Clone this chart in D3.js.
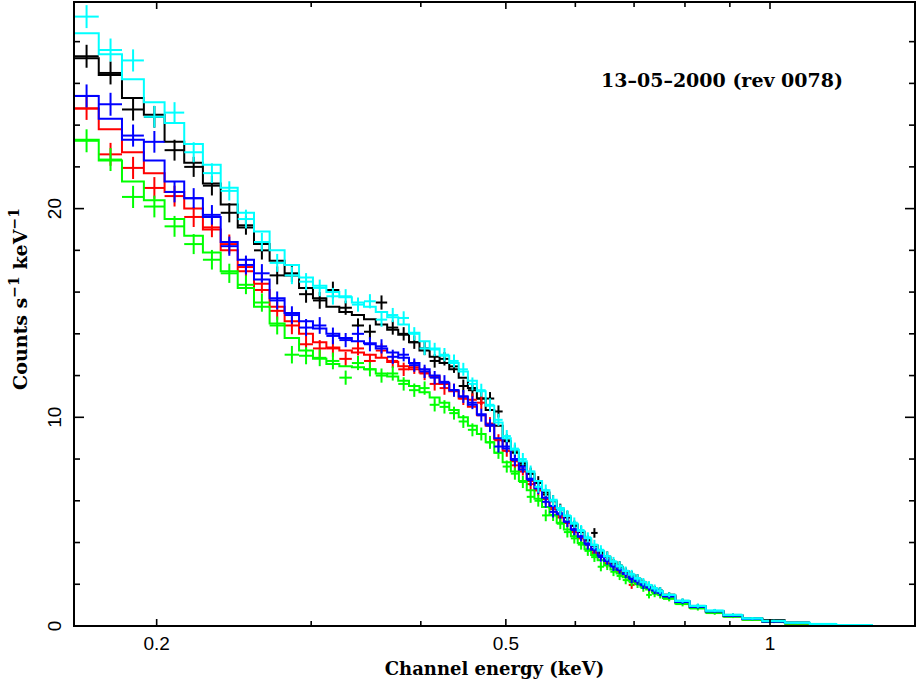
<!DOCTYPE html>
<html><head><meta charset="utf-8">
<script src="https://cdn.jsdelivr.net/npm/d3@7/dist/d3.min.js"></script>
<style>body{margin:0;background:#fff}svg{display:block}</style>
</head><body>
<svg id="chart" width="917" height="681"></svg>
<script>
// ---------- DATA ----------
// bin edges (keV)
const edges = [0.1610,0.1718,0.1826,0.1934,0.2042,0.2150,0.2258,0.2366,0.2474,0.2582,
0.2690,0.2798,0.2906,0.3014,0.3122,0.3230,0.3338,0.3446,0.3554,0.3662,
0.3770,0.3878,0.3986,0.4094,0.4202,0.4310,0.4418,0.4526,0.4634,0.4742,
0.4850,0.4958,0.5066,0.5174,0.5282,0.5390,0.5498,0.5606,0.5714,0.5822,
0.5930,0.6038,0.6146,0.6254,0.6362,0.6470,0.6578,0.6686,0.6794,0.6902,
0.7010,0.7118,0.7226,0.7334,0.7442,0.7550,0.7800,0.8100,0.8450,0.8850,
0.9300,0.9800,1.0400,1.1100,1.1900,1.3100];
// 1-sigma errors per bin (counts/s/keV)
const errs = [0.55,0.55,0.53,0.52,0.50,0.48,0.47,0.46,0.45,0.44,
0.43,0.42,0.41,0.40,0.40,0.34,0.34,0.34,0.34,0.34,
0.32,0.32,0.32,0.32,0.32,0.31,0.31,0.31,0.31,0.31,
0.29,0.29,0.29,0.29,0.29,0.28,0.28,0.27,0.26,0.26,
0.25,0.24,0.24,0.23,0.22,0.22,0.21,0.20,0.20,0.19,
0.18,0.18,0.17,0.17,0.16,0.12,0.11,0.10,0.08,0.07,
0.06,0.05,0.04,0.03,0.02];

const modelBlack = [27.2,26.4,25.3,24.5,23.2,22.2,21.2,20.2,19.1,18.3,
17.5,16.8,16.2,15.7,15.3,15.05,14.9,14.7,14.45,14.2,
13.95,13.6,13.2,12.9,12.6,12.3,11.9,11.4,10.9,10.35,
9.6,8.85,8.3,7.8,7.3,6.85,6.4,5.98,5.58,5.2,
4.85,4.5,4.15,3.84,3.56,3.3,3.06,2.83,2.62,2.43,
2.25,2.08,1.93,1.78,1.65,1.46,1.18,0.95,0.72,0.52,
0.36,0.26,0.15,null,null];
const dataBlack = [27.3,26.5,24.75,24.4,22.8,22.0,21.1,19.8,19.2,18.0,
16.8,16.9,15.9,15.6,16.1,15.25,14.4,14.1,15.5,14.3,
14.0,13.6,13.3,12.7,12.8,12.44,11.5,11.3,10.9,10.9,
10.28,8.9,8.4,7.7,7.3,6.9,6.3,6.0,5.6,5.25,
4.8,4.55,4.1,4.46,3.5,3.35,3.0,2.9,2.6,2.45,
2.3,2.05,1.95,1.75,1.7,1.5,1.2,0.96,0.72,0.53,
0.37,0.28,0.16,null,null];

const modelRed = [24.8,23.8,22.7,21.7,20.8,20.0,19.0,18.0,17.0,16.1,
15.3,14.6,14.0,13.6,13.35,13.2,13.1,13.0,12.85,12.65,
12.45,12.3,12.15,11.95,11.6,11.25,10.9,10.5,10.1,9.6,
8.95,8.4,7.9,7.4,6.95,6.5,6.08,5.68,5.28,4.93,
4.58,4.23,3.91,3.61,3.34,3.09,2.87,2.66,2.47,2.29,
2.12,1.97,1.83,1.69,1.57,1.4,1.13,0.9,0.68,0.48,
0.32,0.2,0.12,0.07,null];
const dataRed = [24.8,22.6,21.95,20.99,20.6,19.6,19.1,18.3,17.2,16.4,
15.1,14.4,13.5,13.3,13.3,12.8,13.3,12.7,13.2,12.7,
12.3,12.4,12.1,11.6,11.4,11.3,10.9,10.84,10.7,9.7,
8.9,8.4,7.7,7.5,6.8,6.5,6.1,5.6,5.2,5.0,
4.5,4.2,3.9,3.5,3.4,3.0,2.9,2.6,2.5,1.97,
2.1,2.0,1.8,1.65,1.6,1.35,1.12,0.9,0.66,0.46,
0.3,0.2,0.11,0.07,null];

const modelGreen = [23.3,22.3,21.3,20.4,19.5,18.7,17.9,17.0,16.2,15.3,
14.5,13.8,13.2,12.8,12.55,12.45,12.4,12.3,12.1,11.95,
11.75,11.5,11.2,10.95,10.7,10.35,10.0,9.6,9.2,8.8,
8.3,7.85,7.4,6.95,6.5,6.1,5.7,5.32,4.95,4.62,
4.3,3.98,3.68,3.4,3.15,2.92,2.71,2.52,2.34,2.17,
2.02,1.88,1.75,1.62,1.51,1.34,1.08,0.86,0.65,0.46,
0.31,0.2,0.12,null,null];
const dataGreen = [23.25,22.35,20.56,20.1,19.15,18.3,17.55,16.9,16.35,15.5,
14.4,13.0,12.95,12.85,12.7,11.9,12.6,12.3,12.0,12.1,
11.6,11.3,11.4,10.6,10.5,10.2,9.8,9.4,9.2,8.8,
8.3,7.64,7.3,6.9,6.19,6.0,5.3,5.3,4.9,4.5,
4.2,3.9,3.6,3.3,2.84,2.9,2.6,2.4,2.2,2.1,
2.0,1.82,1.49,1.55,1.48,1.3,1.05,0.84,0.62,0.45,
0.3,0.19,0.12,null,null];

const modelBlue = [25.4,24.3,23.3,22.3,21.3,20.5,19.6,18.4,17.55,16.6,
15.7,15.0,14.6,14.25,14.0,13.8,13.65,13.55,13.3,13.1,
12.85,12.6,12.3,12.0,11.65,11.3,11.0,10.6,10.15,9.65,
9.0,8.5,8.0,7.5,7.05,6.6,6.15,5.75,5.35,5.0,
4.63,4.28,3.95,3.65,3.38,3.12,2.9,2.69,2.49,2.31,
2.14,1.99,1.85,1.71,1.59,1.42,1.15,0.92,0.7,0.5,
0.34,0.22,0.14,null,null];
const dataBlue = [25.4,25.0,23.5,23.2,20.8,20.5,19.7,18.2,17.3,16.9,
15.6,14.9,14.3,14.4,13.9,13.7,14.0,13.5,13.4,12.9,
13.0,12.5,12.2,11.9,11.7,11.3,11.0,10.7,10.1,9.6,
8.6,8.6,7.95,7.63,7.0,6.6,5.95,5.47,5.4,5.0,
4.6,4.3,3.9,3.7,3.3,3.15,2.85,2.7,2.5,2.25,
2.15,1.95,1.85,1.7,1.6,1.42,1.16,0.93,0.72,0.5,
0.34,0.22,0.15,null,null];

const modelCyan = [28.4,27.4,26.2,25.1,24.1,23.1,22.1,21.0,19.8,18.9,
18.0,17.3,16.7,16.3,16.0,15.75,15.5,15.3,15.05,14.8,
14.45,14.05,13.65,13.3,12.95,12.6,12.2,11.75,11.25,10.55,
9.75,9.0,8.45,7.9,7.4,6.95,6.5,6.05,5.65,5.27,
4.9,4.55,4.2,3.88,3.6,3.33,3.08,2.85,2.64,2.45,
2.27,2.1,1.95,1.8,1.67,1.48,1.2,0.96,0.73,0.53,
0.36,0.24,0.15,0.09,0.05];
const dataCyan = [29.2,27.6,27.1,24.4,24.6,22.7,21.7,20.85,19.5,18.4,
17.4,16.8,16.5,16.2,15.8,15.8,15.4,15.56,14.68,14.9,
14.76,14.0,13.3,13.25,13.0,12.7,12.3,11.6,11.3,10.6,
9.88,9.1,8.5,8.0,7.4,6.67,6.5,6.0,5.56,5.3,
4.95,4.6,4.25,3.9,3.65,3.35,3.1,2.9,2.65,2.5,
2.3,2.12,1.97,1.82,1.7,1.5,1.22,0.97,0.74,0.54,
0.37,0.25,0.16,0.1,0.05];

const seriesColors = ["#000000","#ff0000","#00ff00","#0000ff","#00ffff"];
const seriesModels = [modelBlack, modelRed, modelGreen, modelBlue, modelCyan];
const seriesData   = [dataBlack, dataRed, dataGreen, dataBlue, dataCyan];

const xMajorTicks = [0.2, 0.5, 1];
const xMinorTicks = [0.3, 0.4, 0.6, 0.7, 0.8, 0.9];
const yMajorTicks = [0, 10, 20];
const yMinorTicks = [2,4,6,8,12,14,16,18,22,24,26,28];
const xTitle = "Channel energy (keV)";
const annotation = "13\u201305\u20132000 (rev 0078)";

// ---------- CHART ----------
const svg = d3.select("#chart");
const L = 74, R = 915, T = 2, B = 626;
const x = d3.scaleLog().domain([0.161, 1.463]).range([L, R]);
const y = d3.scaleLinear().domain([0, 29.9]).range([B, T]);

svg.append("clipPath").attr("id","clip").append("rect")
  .attr("x",L).attr("y",T).attr("width",R-L).attr("height",B-T);
const plot = svg.append("g").attr("clip-path","url(#clip)");

seriesModels.forEach((model, s) => {
  const col = seriesColors[s];
  const g = plot.append("g");
  let d = "", prev = null;
  model.forEach((v, i) => {
    if (v == null) { prev = null; return; }
    const lo = x(edges[i]), hi = x(edges[i+1]), yy = y(v);
    if (prev == null) d += `M${lo},${yy}`; else d += `V${yy}`;
    d += `H${hi}`;
    prev = v;
  });
  g.append("path").attr("d", d).attr("fill","none").attr("stroke",col)
    .attr("stroke-width",2);
  const pts = seriesData[s].map((v,i)=>({v,i})).filter(p=>p.v!=null);
  g.selectAll("line.h").data(pts).join("line")
    .attr("x1",p=>x(edges[p.i])).attr("x2",p=>x(edges[p.i+1]))
    .attr("y1",p=>y(p.v)).attr("y2",p=>y(p.v))
    .attr("stroke",col).attr("stroke-width",2);
  g.selectAll("line.v").data(pts).join("line")
    .attr("x1",p=>x((edges[p.i]+edges[p.i+1])/2)).attr("x2",p=>x((edges[p.i]+edges[p.i+1])/2))
    .attr("y1",p=>y(p.v-errs[p.i])).attr("y2",p=>y(p.v+errs[p.i]))
    .attr("stroke",col).attr("stroke-width",2);
});

svg.append("rect").attr("x",L).attr("y",T).attr("width",R-L).attr("height",B-T)
  .attr("fill","none").attr("stroke","#000").attr("stroke-width",2);

const ax = svg.append("g").attr("stroke","#000").attr("stroke-width",1.6);
function xt(v,len){
  ax.append("line").attr("x1",x(v)).attr("x2",x(v)).attr("y1",B).attr("y2",B-len);
  ax.append("line").attr("x1",x(v)).attr("x2",x(v)).attr("y1",T).attr("y2",T+len);
}
function yt(v,len){
  ax.append("line").attr("x1",L).attr("x2",L+len).attr("y1",y(v)).attr("y2",y(v));
  ax.append("line").attr("x1",R).attr("x2",R-len).attr("y1",y(v)).attr("y2",y(v));
}
xMajorTicks.forEach(v=>xt(v,7));
xMinorTicks.forEach(v=>xt(v,5));
yMajorTicks.forEach(v=>yt(v,10));
yMinorTicks.forEach(v=>yt(v,6));

const sans = "'Liberation Sans', Arial, sans-serif";
const serif = "'DejaVu Serif', serif";
svg.append("g").selectAll("text").data(xMajorTicks).join("text")
  .attr("x",v=>x(v)).attr("y",650).attr("text-anchor","middle")
  .attr("font-family",sans).attr("font-size",19).text(v=>String(v));
svg.append("g").selectAll("text").data(yMajorTicks).join("text")
  .attr("transform",v=>`translate(61,${y(v)}) rotate(-90)`)
  .attr("text-anchor","middle")
  .attr("font-family",sans).attr("font-size",19).text(v=>String(v));

svg.append("text").attr("x",(L+R)/2).attr("y",675).attr("text-anchor","middle")
  .attr("font-family",serif).attr("font-weight","bold").attr("font-size",18)
  .text(xTitle);

const yl = svg.append("text").attr("transform","translate(27,299) rotate(-90)")
  .attr("text-anchor","middle").attr("font-family",serif).attr("font-weight","bold")
  .attr("font-size",19);
yl.append("tspan").text("Counts s");
yl.append("tspan").attr("dy",-8).attr("font-size",14).text("\u22121");
yl.append("tspan").attr("dy",8).text(" keV");
yl.append("tspan").attr("dy",-8).attr("font-size",14).text("\u22121");

svg.append("text").attr("x",843).attr("y",87).attr("text-anchor","end")
  .attr("font-family",serif).attr("font-weight","bold").attr("font-size",19)
  .text(annotation);
</script>
</body></html>
